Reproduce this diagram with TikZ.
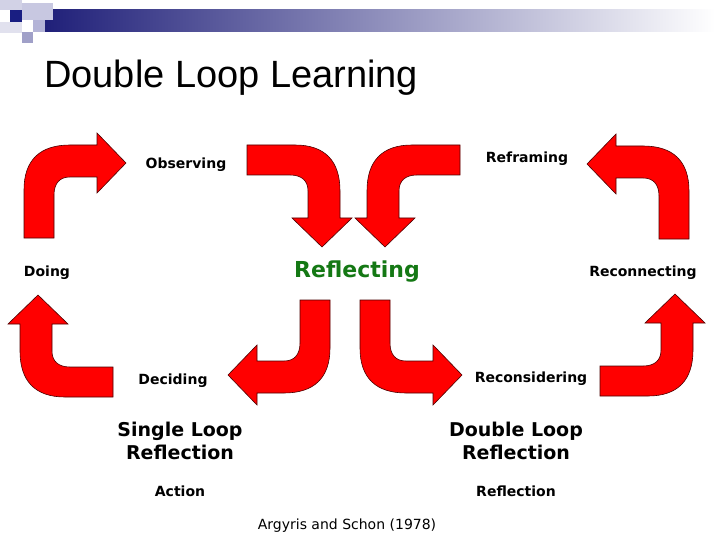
\documentclass[tikz,border=0pt]{standalone}
\usepackage{fontspec}
\setmainfont{DejaVu Sans}
\newfontfamily\arialf{Liberation Sans}
\definecolor{navy}{RGB}{30,30,120}
\definecolor{sqa}{RGB}{210,210,230}
\definecolor{sqb}{RGB}{200,200,225}
\definecolor{sqc}{RGB}{25,30,130}
\definecolor{sqd}{RGB}{225,225,238}
\definecolor{sqe}{RGB}{160,160,200}
\definecolor{sqf}{RGB}{180,180,215}
\definecolor{reflgreen}{RGB}{20,120,20}
\begin{document}
\begin{tikzpicture}[x=1pt,y=1pt,
  lbl/.style={font=\bfseries\fontsize{14}{16}\selectfont,inner sep=0},
  big/.style={font=\bfseries\fontsize{19}{23}\selectfont,align=center,inner sep=0},
  bent/.style={fill=red,draw=black!70!red,line width=0.6pt}]
\useasboundingbox (0,0) rectangle (720,-540);
\fill[white] (0,0) rectangle (720,-540);
% header
\shade[left color=navy,right color=white] (40,-10) rectangle (715,-32);
\fill[sqa] (0,0) rectangle (22,-10);
\fill[sqb] (22,-3) rectangle (53,-20);
\fill[sqc] (10,-10) rectangle (22,-22);
\fill[sqd] (0,-22) rectangle (22,-33);
\fill[sqe] (22,-32) rectangle (33,-43);
\fill[sqf] (33,-20) rectangle (45,-32);
\node[anchor=base west,inner sep=0,font=\arialf\fontsize{38}{40}\selectfont] (title) at (44,-88) {Double Loop Learning};
% arrows
\def\bentarrow{(0,0)--(0,48) .. controls (0,78) and (16,93) .. (46,93) -- (73,93) -- (73,105) -- (102,75) -- (73,45) -- (73,61) -- (46,61) .. controls (36,61) and (30,55) .. (30,43) -- (30,0) -- cycle}
\begin{scope}[cm={1,0,0,1,(24,-238)}] \path[bent] \bentarrow; \end{scope}
\begin{scope}[cm={0,-1,1,0,(247,-145)}] \path[bent] \bentarrow; \end{scope}
\begin{scope}[cm={0,-1,-1,0,(460,-145)}] \path[bent] \bentarrow; \end{scope}
\begin{scope}[cm={-1,0,0,1,(689,-239)}] \path[bent] \bentarrow; \end{scope}
\begin{scope}[cm={0,1,-1,0,(113,-397)}] \path[bent] \bentarrow; \end{scope}
\begin{scope}[cm={-1,0,0,-1,(330,-300)}] \path[bent] \bentarrow; \end{scope}
\begin{scope}[cm={1,0,0,-1,(360,-300)}] \path[bent] \bentarrow; \end{scope}
\begin{scope}[cm={0,1,1,0,(600,-396)}] \path[bent] \bentarrow; \end{scope}
% labels
\node[lbl] (obs) at (186,-165) {Observing};
\node[lbl] (refr) at (527,-159) {Reframing};
\node[lbl] (doing) at (47,-273) {Doing};
\node[lbl] (recon) at (643,-273) {Reconnecting};
\node[lbl,font=\bfseries\fontsize{22}{24}\selectfont,text=reflgreen] (refl) at (357,-272) {Reflecting};
\node[lbl] (dec) at (173,-381) {Deciding};
\node[lbl] (recons) at (531,-379) {Reconsidering};
\node[big] (slr) at (180,-441) {Single Loop\\Reflection};
\node[big] (dlr) at (516,-441) {Double Loop\\Reflection};
\node[lbl] (act) at (180,-491) {Action};
\node[lbl] (reflx) at (516,-491) {Reflection};
\node[inner sep=0,font=\fontsize{14}{16}\selectfont] (cite) at (347,-526) {Argyris and Schon (1978)};
\end{tikzpicture}
\end{document}
